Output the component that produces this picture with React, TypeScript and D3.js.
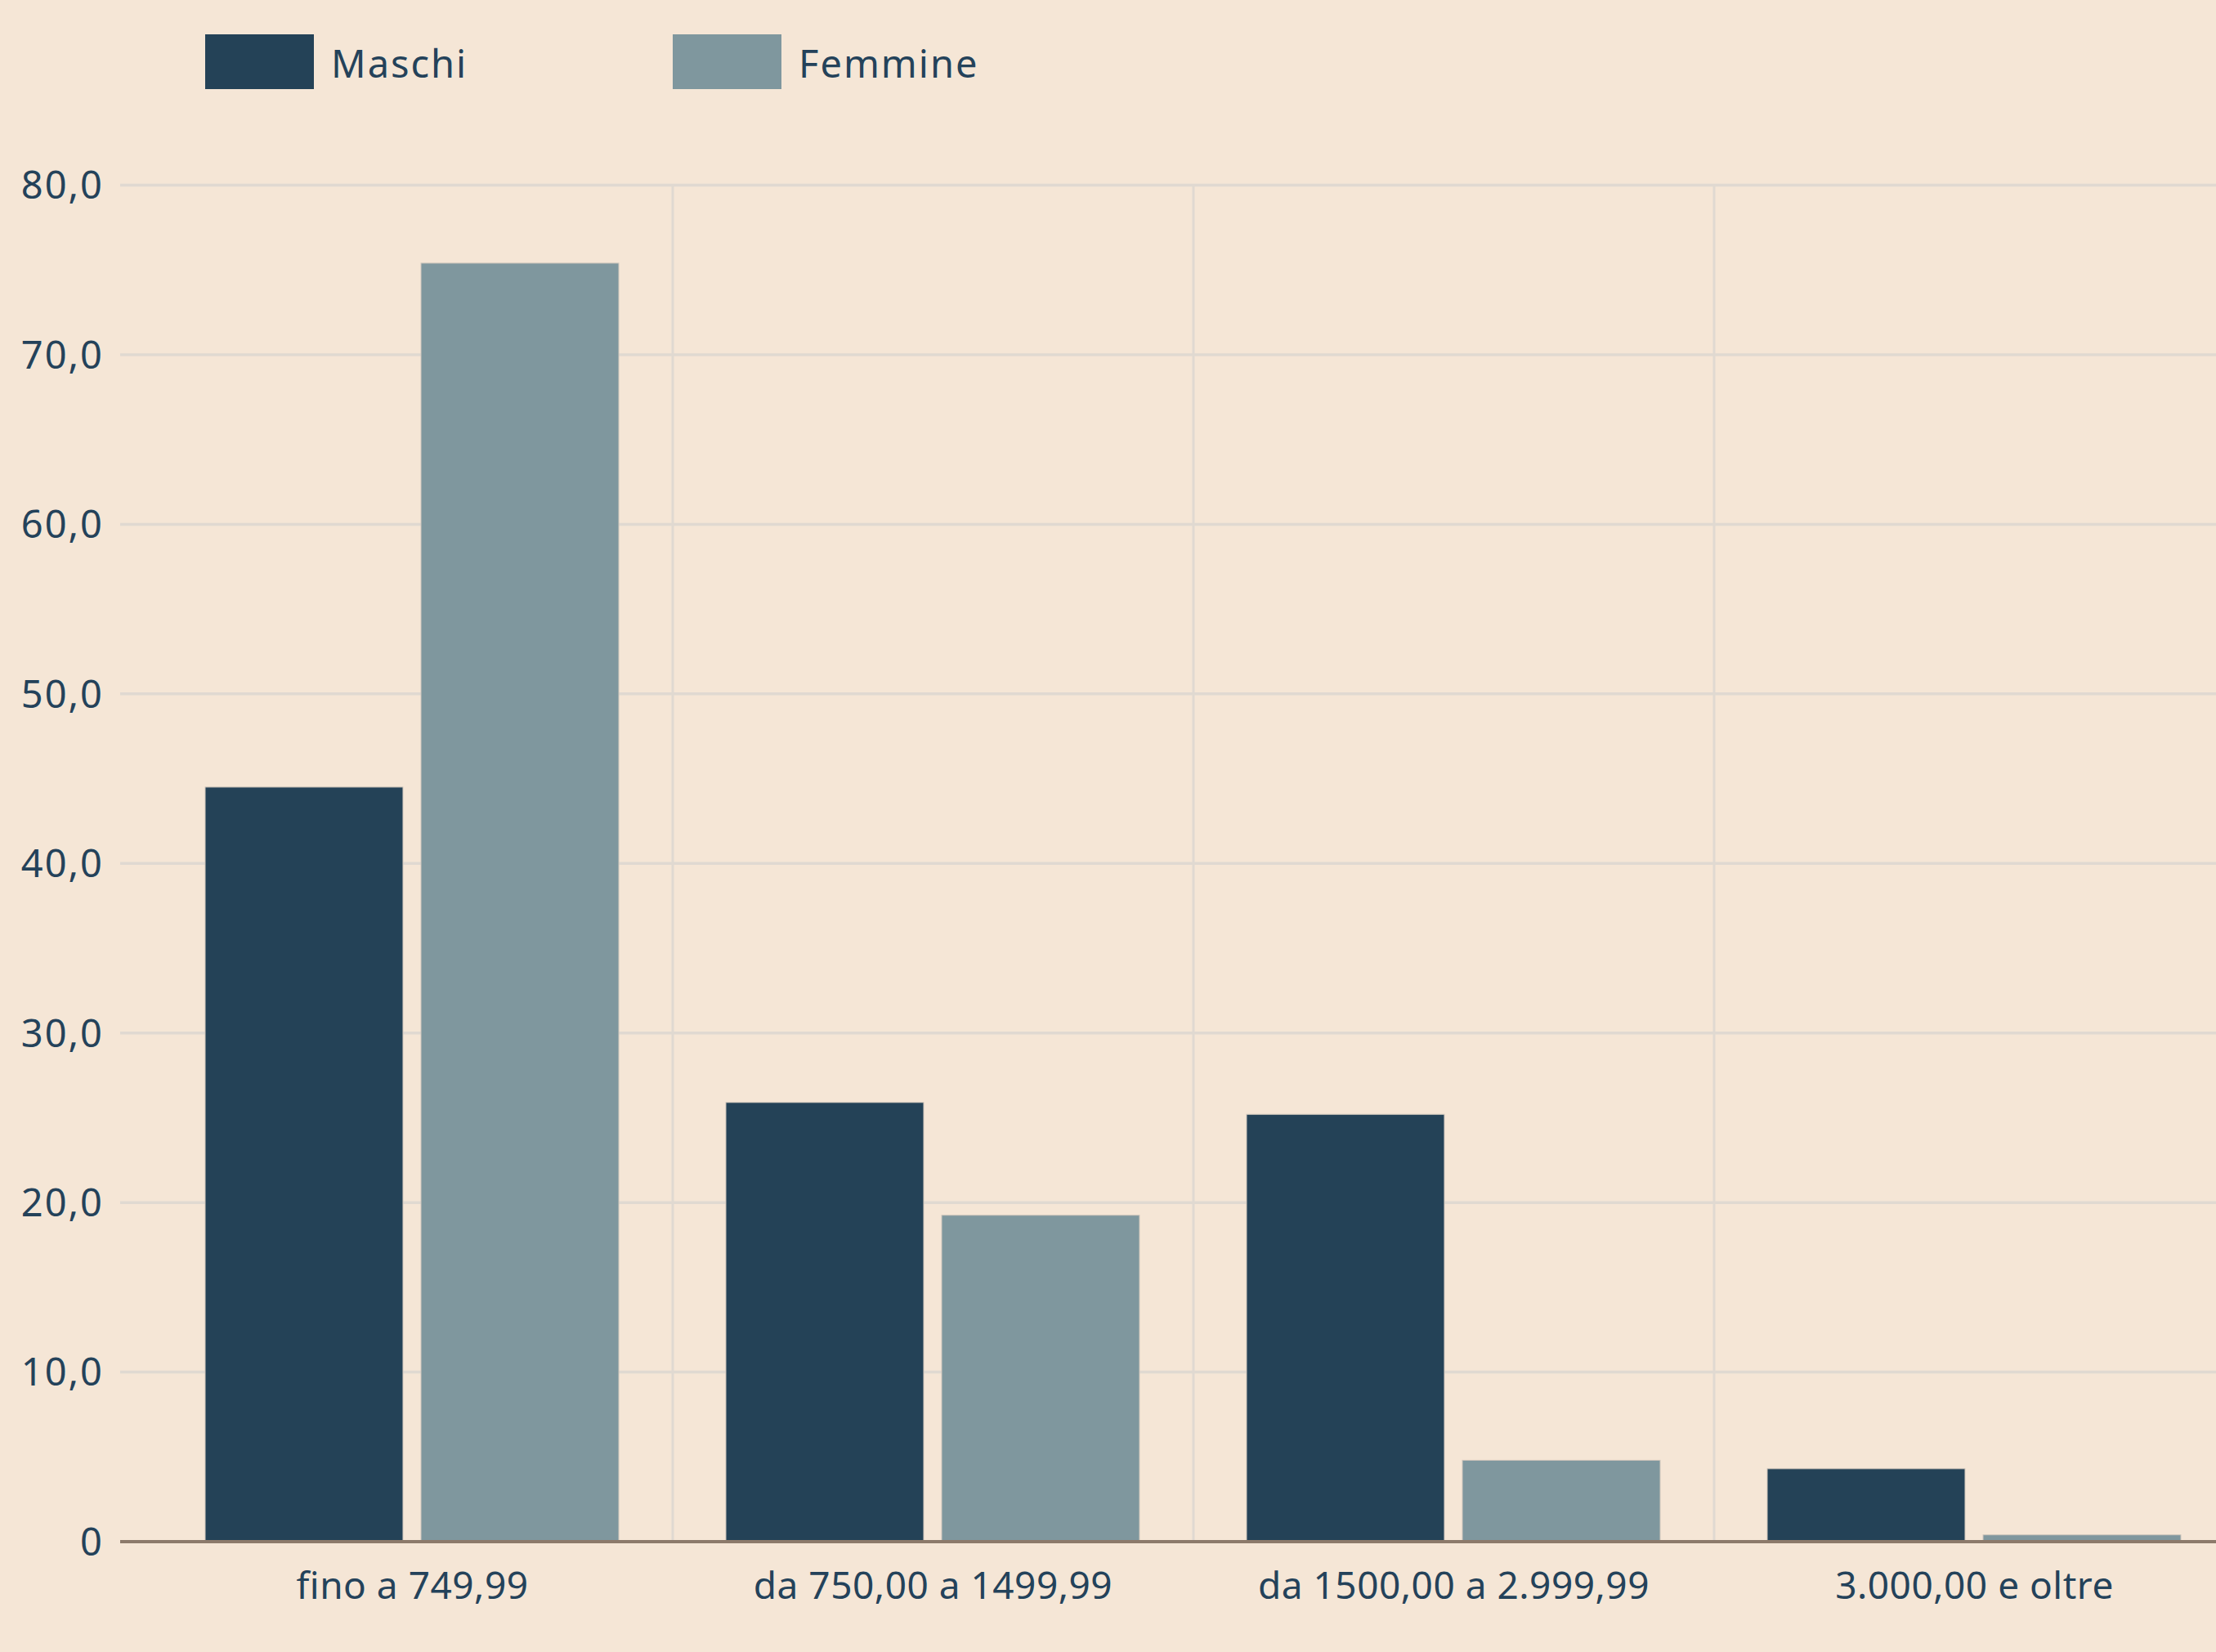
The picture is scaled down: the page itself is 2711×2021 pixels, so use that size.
import * as d3 from "d3";

const categories = ["fino a 749,99", "da 750,00 a 1499,99", "da 1500,00 a 2.999,99", "3.000,00 e oltre"];
const series = ["Maschi", "Femmine"];
const maschi = [44.5, 25.9, 25.2, 4.3];
const femmine = [75.4, 19.25, 4.8, 0.4];
const yTicks = [0, 10, 20, 30, 40, 50, 60, 70, 80];

const colors: Record<string, string> = { Maschi: "#244257", Femmine: "#7f979e" };
const textColor = "#24425a";
const font = "'Noto Sans', sans-serif";

export default function App() {
  const width = 2711;
  const height = 2021;
  const gridLeft = 147;

  const x0 = d3.scaleBand().domain(categories).range([186, 2734]);
  const bw = x0.bandwidth();
  const x1 = d3.scaleBand().domain(series).range([65, bw - 66]).paddingInner(0.0835);
  const y = d3.scaleLinear().domain([0, 80]).range([1886, 226.5]);

  const rows = categories.map((c, i) => ({ cat: c, Maschi: maschi[i], Femmine: femmine[i] }));
  const fmt = (v: number) => (v === 0 ? "0" : v.toFixed(1).replace(".", ","));

  const legend = [
    { name: "Maschi", x: (x0(categories[0]) ?? 0) + (x1("Maschi") ?? 0) },
    { name: "Femmine", x: x0(categories[1]) ?? 0 },
  ];

  return (
    <svg
      width={width}
      height={height}
      style={{ position: "absolute", left: 0, top: 0, display: "block", overflow: "hidden" }}
      fontFamily={font}
    >
      <rect width={width} height={height} fill="#f5e6d6" />

      {/* horizontal grid */}
      {yTicks.map((t) => (
        <line key={"h" + t} x1={gridLeft} x2={width} y1={y(t)} y2={y(t)} stroke="#e0d9d1" strokeWidth={3.5} />
      ))}
      {/* vertical grid at band boundaries */}
      {categories.slice(1).map((c) => (
        <line key={"v" + c} x1={x0(c)} x2={x0(c)} y1={y(80)} y2={y(0)} stroke="#e0d9d1" strokeWidth={3} />
      ))}

      {/* y labels */}
      {yTicks.map((t) => (
        <text key={"t" + t} x={127} y={y(t)} dy="0.36em" textAnchor="end" fontSize={47} letterSpacing={2} fill={textColor}>
          {fmt(t)}
        </text>
      ))}

      {/* bars */}
      {rows.map((r) => (
        <g key={r.cat} transform={`translate(${x0(r.cat)},0)`}>
          {series.map((s) => (
            <rect
              key={s}
              x={x1(s)}
              y={y((r as any)[s])}
              width={x1.bandwidth()}
              height={y(0) - y((r as any)[s])}
              fill={colors[s]}
              stroke="#cfc6bc"
              strokeWidth={1}
            />
          ))}
          <text x={bw / 2} y={1956} textAnchor="middle" fontSize={46} letterSpacing={0.5} fill={textColor}>
            {r.cat}
          </text>
        </g>
      ))}

      {/* x axis line */}
      <line x1={gridLeft} x2={width} y1={y(0)} y2={y(0)} stroke="#8c7a6b" strokeWidth={4} />

      {/* legend */}
      {legend.map((l) => (
        <g key={l.name}>
          <rect x={l.x} y={42} width={133} height={67} fill={colors[l.name]} />
          <text x={l.x + 154} y={95} fontSize={47} letterSpacing={2} fill={textColor}>
            {l.name}
          </text>
        </g>
      ))}
    </svg>
  );
}
